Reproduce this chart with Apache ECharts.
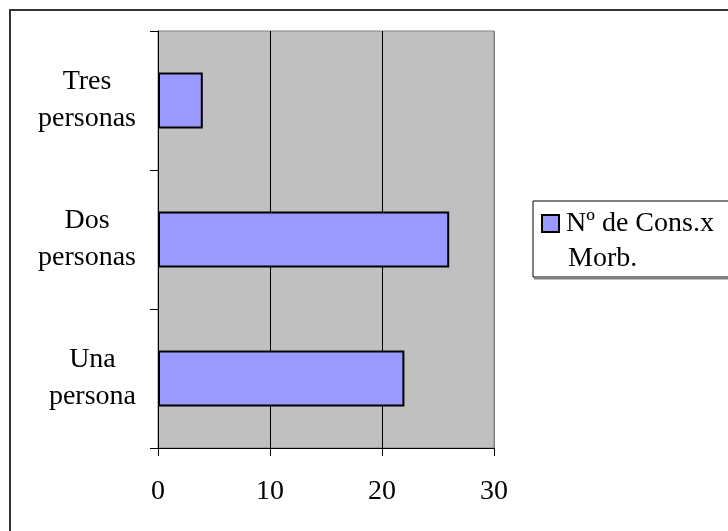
<!DOCTYPE html>
<html>
<head>
<meta charset="utf-8">
<script src="https://cdn.jsdelivr.net/npm/echarts@6/dist/echarts.min.js"></script>
<style>
html,body{margin:0;padding:0;background:#fff;}
#chart{width:728px;height:531px;}
</style>
</head>
<body>
<div id="chart"></div>
<script>
const categories = ['Una persona', 'Dos personas', 'Tres personas'];
const values = [22, 26, 4];
const seriesName = 'Nº de Cons.x Morb.';
const xTicks = [0, 10, 20, 30];

const FONT = "'Liberation Serif', 'Times New Roman', serif";
const chart = echarts.init(document.getElementById('chart'));

chart.setOption({
  animation: false,
  backgroundColor: '#fff',
  textStyle: { fontFamily: FONT },
  graphic: [{
    type: 'rect',
    shape: { x: 10, y: 10, width: 800, height: 600 },
    style: { fill: 'none', stroke: '#333', lineWidth: 2 },
    z: 100
  }, {
    type: 'line',
    shape: { x1: 534, y1: 278.5, x2: 740, y2: 278.5 },
    style: { stroke: '#808080', lineWidth: 2 },
    z: 100
  }],
  grid: {
    left: 158, right: 234, top: 31, bottom: 83,
    show: true, backgroundColor: '#c0c0c0', borderColor: '#808080', borderWidth: 1
  },
  xAxis: {
    type: 'value',
    min: xTicks[0], max: xTicks[xTicks.length - 1], interval: 10,
    axisLine: { show: true, lineStyle: { color: '#000', width: 1 } },
    axisTick: { show: true, length: 8, lineStyle: { color: '#000' } },
    axisLabel: { color: '#000', fontSize: 28, fontFamily: FONT, margin: 30 },
    splitLine: { show: true, lineStyle: { color: ['#000', '#000', '#000', '#808080'], width: 1 } }
  },
  yAxis: {
    type: 'category',
    data: categories,
    axisLine: { show: true, lineStyle: { color: '#000', width: 1 } },
    axisTick: { show: true, length: 8, lineStyle: { color: '#000' } },
    axisLabel: {
      color: '#000', fontSize: 28, fontFamily: FONT, margin: 22, align: 'right',
      lineHeight: 37,
      formatter: function (v) {
        return v.split(' ').map(function (w) { return '{a|' + w + '}'; }).join('\n');
      },
      rich: { a: { align: 'center', fontSize: 28, fontFamily: FONT, lineHeight: 37, color: '#000' } }
    },
    splitLine: { show: false }
  },
  legend: {
    show: true,
    left: 533, top: 201,
    orient: 'vertical',
    padding: [5, 20, 1, 5],
    backgroundColor: '#fff',
    borderColor: '#000', borderWidth: 1,
    itemWidth: 0, itemHeight: 0,
    icon: 'rect',
    itemStyle: { opacity: 0, borderWidth: 0 },
    formatter: function () {
      return '{box|}{sp|}{t|Nº de Cons.x}\n{ind|}{t|Morb.}';
    },
    textStyle: {
      color: '#000', fontSize: 28, fontFamily: FONT, lineHeight: 35,
      rich: {
        box: { width: 15, height: 15, backgroundColor: '#9999ff', borderColor: '#000', borderWidth: 2 },
        sp: { width: 8 },
        ind: { width: 25 },
        t: { fontSize: 28, fontFamily: FONT, lineHeight: 35, color: '#000' }
      }
    },
    data: [seriesName]
  },
  series: [{
    name: seriesName,
    type: 'bar',
    data: values,
    barWidth: 56,
    itemStyle: { color: '#9999ff', borderColor: '#000', borderWidth: 2 },
    z: 3
  }]
});
</script>
</body>
</html>
